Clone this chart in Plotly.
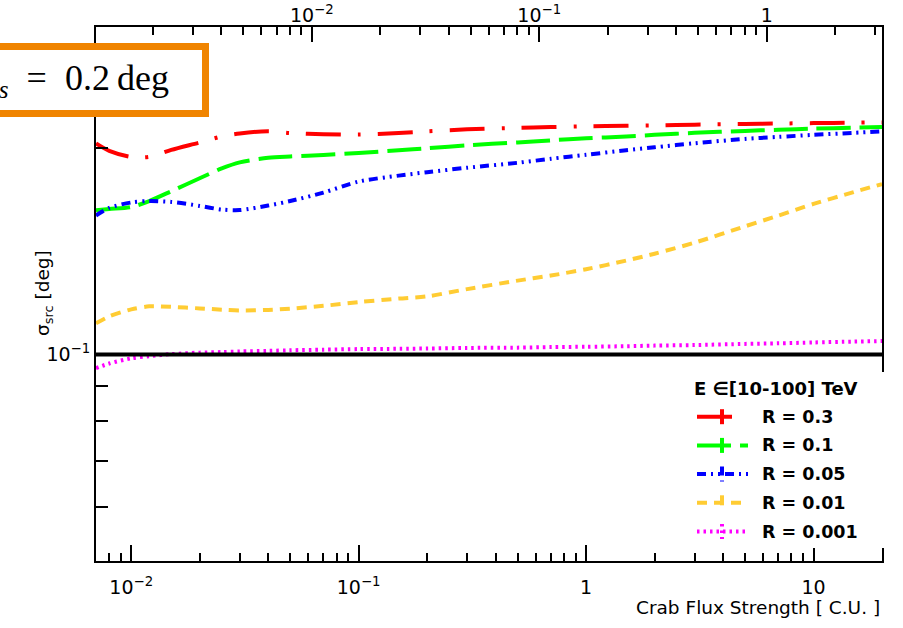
import math
import plotly.graph_objects as go

# ---------------- data ----------------
FLUX = [0.007, 0.008, 0.01, 0.012, 0.015, 0.02, 0.025, 0.03, 0.04, 0.05, 0.07,
        0.1, 0.15, 0.2, 0.3, 0.5, 0.7, 1, 1.5, 2, 3, 5, 7, 10, 15, 20]

SIGMA_R03 = [0.203, 0.198, 0.194, 0.194, 0.1986, 0.2036, 0.2078, 0.2099, 0.2114, 0.2102, 0.2093,
             0.2091, 0.2102, 0.2114, 0.2128, 0.2138, 0.2144, 0.2150, 0.2154, 0.2157, 0.2162,
             0.2167, 0.2170, 0.2173, 0.2176, 0.2178]
SIGMA_R01 = [0.1622, 0.1629, 0.1640, 0.1673, 0.1729, 0.1806, 0.1867, 0.1905, 0.1934, 0.1943, 0.1953,
             0.1966, 0.1984, 0.1997, 0.2017, 0.2037, 0.2051, 0.2065, 0.2078, 0.2089, 0.2103,
             0.2117, 0.2125, 0.2133, 0.2140, 0.2144]
SIGMA_R005 = [0.1594, 0.1635, 0.1665, 0.1673, 0.1668, 0.1646, 0.1626, 0.1623, 0.1648, 0.1673, 0.1721,
              0.1786, 0.1822, 0.1843, 0.1871, 0.1902, 0.1928, 0.1954, 0.1984, 0.2004, 0.2031,
              0.2061, 0.2075, 0.2089, 0.2103, 0.2114]
SIGMA_R001 = [0.1110, 0.1136, 0.1163, 0.1175, 0.1173, 0.1167, 0.1162, 0.1159, 0.1161, 0.1166, 0.1177,
              0.1192, 0.1206, 0.1215, 0.1245, 0.1281, 0.1303, 0.1331, 0.1370, 0.1402, 0.1455,
              0.1537, 0.1593, 0.1657, 0.1724, 0.1771]
SIGMA_R0001 = [0.0955, 0.0970, 0.0987, 0.0994, 0.1001, 0.1006, 0.1008, 0.1010, 0.1012, 0.1014, 0.1016,
               0.1018, 0.1019, 0.1020, 0.1022, 0.1023, 0.1025, 0.1026, 0.1028, 0.1030, 0.1032,
               0.1036, 0.1038, 0.1041, 0.1044, 0.1046]

SERIES = [SIGMA_R03, SIGMA_R01, SIGMA_R005, SIGMA_R001, SIGMA_R0001]
SERIES_LABELS = ["R = 0.3", "R = 0.1", "R = 0.05", "R = 0.01", "R = 0.001"]
LEGEND_TITLE = "E \u2208[10-100] TeV"
REF_LEVEL = 0.1
SOURCE_TEXT = "<i>\u03c3</i><sub><i>s</i></sub>\u2002=\u20020.2\u2009deg"

X_TICKS = [0.01, 0.1, 1, 10]
X_TICK_TEXT = ["10<sup>\u22122</sup>", "10<sup>\u22121</sup>", "1", "10"]
X_MINOR = [0.008, 0.009] + [k / 100 for k in range(2, 10)] + [k / 10 for k in range(2, 10)] + \
          list(range(2, 10)) + [20]
TOP_TICKS = [0.01, 0.1, 1]
TOP_TICK_TEXT = ["10<sup>\u22122</sup>", "10<sup>\u22121</sup>", "1"]
TOP_MINOR = [k / 1000 for k in range(2, 10)] + [k / 100 for k in range(2, 10)] + \
            [k / 10 for k in range(2, 10)] + [2, 3]
Y_TICKS = [0.1]
Y_TICK_TEXT = ["10<sup>\u22121</sup>"]
Y_MINOR = [0.06, 0.07, 0.08, 0.09, 0.2]

X_RANGE = [0.007, 20]
TOP_RANGE = [0.001125, 3.214]
Y_RANGE = [0.05, 0.3]

X_TITLE = "Crab Flux Strength [ C.U. ]"
Y_TITLE = "\u03c3<sub>src</sub> [deg]"

# ---------------- styles ----------------
COLORS = ["#ff0000", "#00ff00", "#0000ff", "#ffcc33", "#ff00ff"]
DASHES = ["35px,17px,3px,17px", "34px,9px", "9px,5px,2px,5px,2px,5px", "10px,7px", "2.5px,4px"]
LW = 4

W, H = 903, 628
ML, MR, MT, MB = 96, 21, 27, 67
PW, PH = W - ML - MR, H - MT - MB


def pxx(x):
    return (x - ML) / PW


def pxy(y):
    return (H - MB - y) / PH


SANS = "DejaVu Sans"

fig = go.Figure()
for vals, col, dash, name in zip(SERIES, COLORS, DASHES, SERIES_LABELS):
    fig.add_trace(go.Scatter(x=FLUX, y=vals, mode="lines", name=name,
                             line=dict(color=col, width=LW, dash=dash, shape="spline", smoothing=0.8),
                             showlegend=False, hoverinfo="skip"))

# reference line at sigma = 0.1 deg, drawn across the full top-axis range
fig.add_trace(go.Scatter(x=TOP_RANGE, y=[REF_LEVEL, REF_LEVEL], xaxis="x2", yaxis="y", mode="lines",
                         line=dict(color="black", width=4), showlegend=False, hoverinfo="skip"))

shapes = []
# legend background (covers right frame)
shapes.append(dict(type="rect", xref="paper", yref="paper", x0=pxx(680), x1=pxx(886),
                   y0=pxy(548), y1=pxy(372), fillcolor="white", line=dict(width=0), layer="above"))
# orange label box
shapes.append(dict(type="rect", xref="paper", yref="paper", x0=pxx(-40), x1=pxx(205.5),
                   y0=pxy(113.5), y1=pxy(46.5), fillcolor="white",
                   line=dict(color="#f08400", width=7), layer="above"))

annotations = []
LEG_Y0 = 416.7
LEG_DY = 28.7
for i, (col, dash, name) in enumerate(zip(COLORS, DASHES, SERIES_LABELS)):
    yy = LEG_Y0 + i * LEG_DY
    shapes.append(dict(type="line", xref="paper", yref="paper", x0=pxx(697), x1=pxx(748),
                       y0=pxy(yy), y1=pxy(yy), line=dict(color=col, width=LW, dash=dash), layer="above"))
    shapes.append(dict(type="line", xref="paper", yref="paper", x0=pxx(722), x1=pxx(722),
                       y0=pxy(yy - 7.5), y1=pxy(yy + 7.5), line=dict(color=col, width=LW, dash=dash),
                       layer="above"))
    annotations.append(dict(text="<b>" + name + "</b>", xref="paper", yref="paper", x=pxx(760), y=pxy(yy),
                            xanchor="left", yanchor="middle", showarrow=False,
                            font=dict(family=SANS, size=17.5, color="black")))
annotations.append(dict(text="<b>" + LEGEND_TITLE + "</b>", xref="paper", yref="paper", x=pxx(692), y=pxy(388.5),
                        xanchor="left", yanchor="middle", showarrow=False,
                        font=dict(family=SANS, size=18, color="black")))
annotations.append(dict(text=SOURCE_TEXT, xref="paper", yref="paper", x=pxx(171), y=pxy(80),
                        xanchor="right", yanchor="middle", showarrow=False,
                        font=dict(family="Liberation Serif", size=36, color="black")))
annotations.append(dict(text=X_TITLE, xref="paper", yref="paper", x=pxx(882), y=pxy(607),
                        xanchor="right", yanchor="middle", showarrow=False,
                        font=dict(family=SANS, size=18.5, color="black")))
annotations.append(dict(text=Y_TITLE, xref="paper", yref="paper", x=pxx(44), y=pxy(293),
                        xanchor="center", yanchor="middle", showarrow=False, textangle=-90,
                        font=dict(family=SANS, size=18.5, color="black")))

common_axis = dict(type="log", showgrid=False, zeroline=False, ticks="inside", tickwidth=1.5,
                   tickcolor="black", linecolor="black", linewidth=2, showline=True,
                   tickfont=dict(family=SANS, size=19, color="black"))

fig.update_layout(
    width=W, height=H, margin=dict(l=ML, r=MR, t=MT, b=MB, autoexpand=False),
    paper_bgcolor="white", plot_bgcolor="white", showlegend=False,
    xaxis=dict(common_axis, range=[math.log10(X_RANGE[0]), math.log10(X_RANGE[1])],
               tickmode="array", tickvals=X_TICKS, ticktext=X_TICK_TEXT, ticklen=16, mirror=True,
               ticklabelstandoff=8,
               minor=dict(tickmode="array", tickvals=X_MINOR, ticks="inside", ticklen=8,
                          tickwidth=1.5, tickcolor="black", showgrid=False)),
    xaxis2=dict(common_axis, overlaying="x", side="top", anchor="y",
                range=[math.log10(TOP_RANGE[0]), math.log10(TOP_RANGE[1])],
                tickmode="array", tickvals=TOP_TICKS, ticktext=TOP_TICK_TEXT, ticklen=15,
                ticklabelstandoff=-5,
                minor=dict(tickmode="array", tickvals=TOP_MINOR, ticks="inside", ticklen=8,
                           tickwidth=1.5, tickcolor="black", showgrid=False)),
    yaxis=dict(common_axis, range=[math.log10(Y_RANGE[0]), math.log10(Y_RANGE[1])],
               tickmode="array", tickvals=Y_TICKS, ticktext=Y_TICK_TEXT, ticklen=24, mirror=True,
               minor=dict(tickmode="array", tickvals=Y_MINOR, ticks="inside", ticklen=12,
                          tickwidth=1.5, tickcolor="black", showgrid=False)),
    shapes=shapes, annotations=annotations,
)

fig.write_html("out.html")
